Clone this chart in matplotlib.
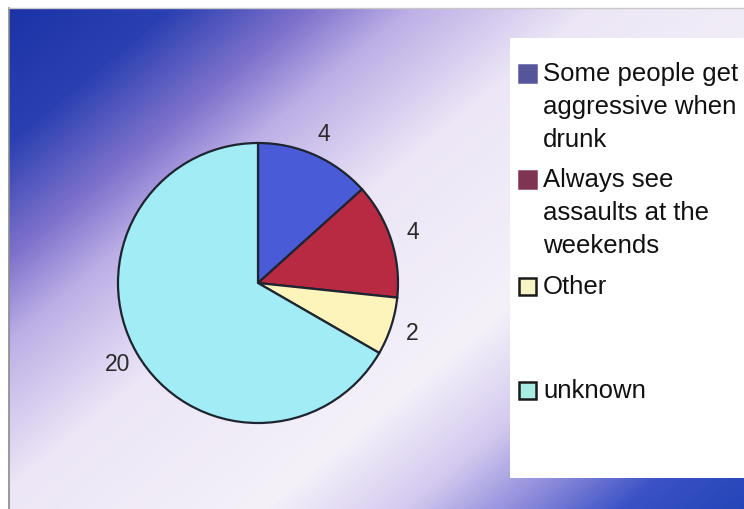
import textwrap
import numpy as np
import matplotlib
matplotlib.use("Agg")
import matplotlib.pyplot as plt
from matplotlib.colors import LinearSegmentedColormap
from matplotlib.patches import Rectangle
from matplotlib.lines import Line2D

# data
categories = ["Some people get aggressive when drunk",
              "Always see assaults at the weekends",
              "Other",
              "unknown"]
values = [4, 4, 2, 20]
pie_colors = ["#4a5bd8", "#b82a42", "#fdf4bc", "#a2ecf6"]
legend_colors = ["#55559c", "#7e3452", "#f6f4c4", "#a8ece2"]
legend_edges = ["#55559c", "#7e3452", "#1a1a1a", "#1a1a1a"]

W, H = 744, 509
plt.rcParams["font.family"] = ["Liberation Sans", "DejaVu Sans"]

fig = plt.figure(figsize=(W / 100, H / 100), dpi=100)
fig.patch.set_facecolor("white")


def fx(x):
    return x / W


def fy(y):
    return 1 - y / H


# background gradient (diagonal, blue -> lavender -> white -> lavender -> blue)
bx0, by0 = 9, 8
bg = fig.add_axes([fx(bx0), 0, 1 - fx(bx0), fy(by0)])
xx, yy = np.meshgrid(np.arange(bx0, W), np.arange(by0, H))
t = xx / 400 + yy / 330
stops = [(0.0, "#1a32a6"), (0.45, "#2a40b2"), (0.8, "#7f72cc"), (1.05, "#bcaee6"),
         (1.5, "#ece6f6"), (2.2, "#f4f1f9"), (2.55, "#d4caef"), (2.85, "#8a88da"),
         (3.1, "#3a52c6"), (3.45, "#2244b6")]
tmax = 3.45
cmap = LinearSegmentedColormap.from_list("bg", [(s / tmax, c) for s, c in stops])
bg.imshow(np.clip(t / tmax, 0, 1), cmap=cmap, vmin=0, vmax=1, aspect="auto",
          interpolation="bilinear")
bg.axis("off")

# frame lines
fig.add_artist(Line2D([fx(bx0), fx(bx0)], [0, fy(by0)], color="#8a8a8a", lw=1.2))
fig.add_artist(Line2D([fx(bx0), 1], [fy(by0), fy(by0)], color="#c8c8c8", lw=1.0))

# pie
cx, cy, r = 258, 283, 140
ax = fig.add_axes([fx(cx - r), fy(cy + r), 2 * r / W, 2 * r / H])
wedges, texts = ax.pie(values, labels=[str(v) for v in values], colors=pie_colors,
                       startangle=90, counterclock=False, labeldistance=1.16,
                       wedgeprops=dict(edgecolor="#1e2430", linewidth=1.6),
                       textprops=dict(fontsize=16.5, color="#2a2a2a"))
for tx in texts:
    tx.set_ha("center")
    tx.set_va("center")
ax.set_xlim(-1, 1)
ax.set_ylim(-1, 1)
ax.set_facecolor("none")

# legend box
fig.patches.append(Rectangle((fx(510), fy(478)), 1 - fx(510), fy(38) - fy(478),
                             transform=fig.transFigure, facecolor="white",
                             edgecolor="none", zorder=1))

baselines = [81, 187, 294, 398]
line_gap = 33
msize = 17
for i, label in enumerate(categories):
    lines = textwrap.fill(label, 15).split("\n")
    b = baselines[i]
    fig.patches.append(Rectangle((fx(519), fy(b + 1)), msize / W, msize / H,
                                 transform=fig.transFigure,
                                 facecolor=legend_colors[i],
                                 edgecolor=legend_edges[i], linewidth=1.8, zorder=2))
    for j, ln in enumerate(lines):
        fig.text(fx(543), fy(b + j * line_gap), ln, fontsize=18.5, color="#111111",
                 ha="left", va="baseline", zorder=3)

fig.savefig("out.png", dpi=100)
